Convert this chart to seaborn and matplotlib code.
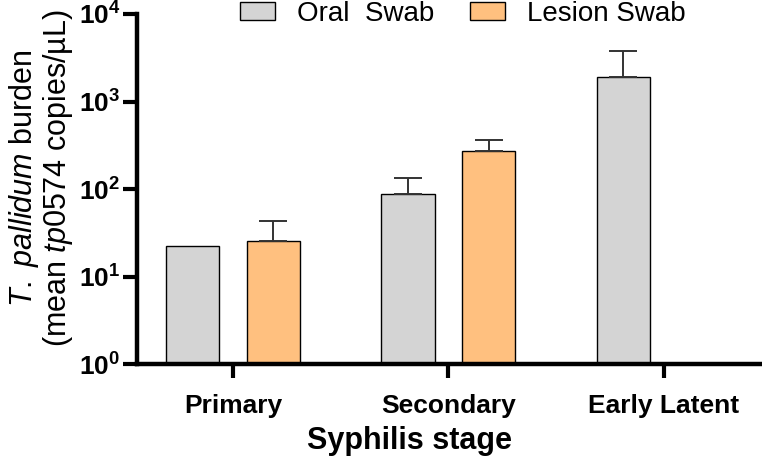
import numpy as np
import pandas as pd
import seaborn as sns
import matplotlib.pyplot as plt
from matplotlib.ticker import LogLocator, NullLocator

# values (copies/uL, upper error only)
stages = ["Primary", "Secondary", "Early Latent"]
sample_types = ["Oral  Swab", "Lesion Swab"]
oral_mean = [22.5, 89, 1920]
oral_err = [0, 44, 1880]
lesion_mean = [25.5, 274, np.nan]
lesion_err = [18, 89, np.nan]
colors = ["#D4D4D4", "#FFC07F"]

df = pd.DataFrame({
	"stage": stages * 2,
	"sample": [sample_types[0]] * 3 + [sample_types[1]] * 3,
	"mean": oral_mean + lesion_mean,
	"err": oral_err + lesion_err,
})

sns.set_style("ticks")
plt.rcParams['font.family'] = ['Liberation Sans', 'DejaVu Sans']
plt.rcParams['mathtext.fontset'] = 'custom'
plt.rcParams['mathtext.it'] = 'Liberation Sans:italic'
plt.rcParams['mathtext.rm'] = 'Liberation Sans'
for key in ['text.color', 'axes.labelcolor', 'xtick.color', 'ytick.color', 'axes.edgecolor']:
	plt.rcParams[key] = 'black'

fig = plt.figure(figsize=(7.62, 4.63), dpi=100)
ax = fig.add_axes([0.18, 0.213, 0.817, 0.757])
ax.set_yscale("log")

sns.barplot(data=df.dropna(), x="stage", y="mean", hue="sample",
			order=stages, hue_order=sample_types, palette=colors,
			saturation=1, width=0.75, gap=0.34, errorbar=None,
			edgecolor="black", linewidth=1.0, ax=ax)

# upper error bars, positions taken from the drawn bars
for cont, name in zip(ax.containers, sample_types):
	sub = df[df["sample"] == name].dropna()
	for bar, e in zip(cont, sub["err"]):
		if e <= 0:
			continue
		xc = bar.get_x() + bar.get_width() / 2
		h = bar.get_height()
		ax.errorbar([xc], [h], yerr=[[0], [e]], fmt="none",
					ecolor="#333333", elinewidth=1.4, capsize=10, capthick=1.4)

ax.set_ylim(1, 1e4)
ax.set_xlim(-0.445, 2.445)
ax.yaxis.set_major_locator(LogLocator(base=10, numticks=10))
ax.yaxis.set_minor_locator(NullLocator())

sns.despine(ax=ax)
for s in ["left", "bottom"]:
	ax.spines[s].set_linewidth(3.2)
ax.tick_params(axis="both", length=10, width=3, color="black")
ax.tick_params(axis="y", labelsize=19, pad=2)
ax.tick_params(axis="x", labelsize=19, pad=11)
for lab in ax.get_xticklabels() + ax.get_yticklabels():
	lab.set_fontweight("bold")

ax.set_xlabel("Syphilis stage", fontsize=22, fontweight="bold", labelpad=6)
ax.xaxis.set_label_coords(0.438, -0.175)
ax.set_ylabel("$\\mathit{T.\\ pallidum}$ burden\n(mean $\\mathit{tp0574}$ copies/µL)",
			  fontsize=22, labelpad=3, linespacing=1.0)
ax.yaxis.label.set_y(0.53)

ax.legend(loc="center", bbox_to_anchor=(0.523, 1.0), ncol=2, frameon=False,
		  fontsize=20, handlelength=1.26, handleheight=0.6, columnspacing=1.3,
		  handletextpad=0.8)

fig.savefig("out.png", dpi=100)
